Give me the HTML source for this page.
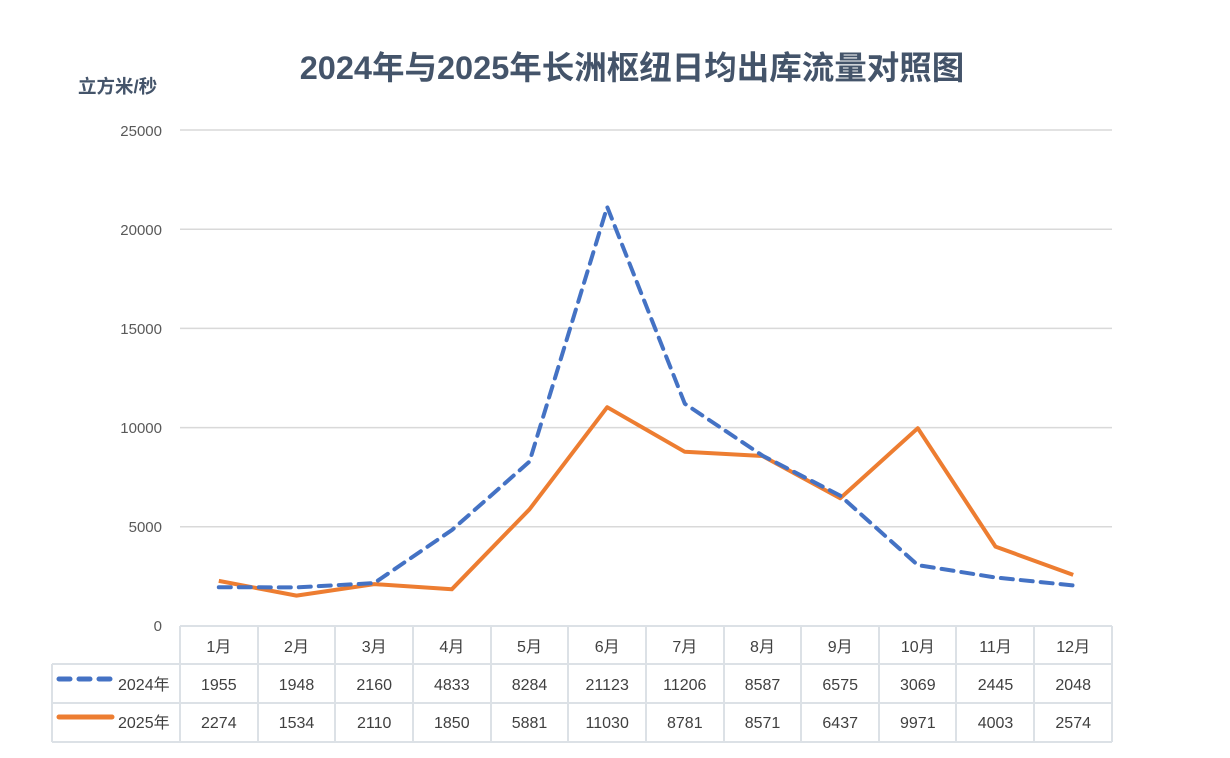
<!DOCTYPE html>
<html><head><meta charset="utf-8"><style>
body{margin:0;background:#fff;}
svg text{font-family:"Liberation Sans","Noto Sans CJK SC",sans-serif;}
</style></head><body>
<svg width="1230" height="753" viewBox="0 0 1230 753" xmlns="http://www.w3.org/2000/svg">
<rect width="1230" height="753" fill="#fff"/>
<text x="632" y="79" text-anchor="middle" font-size="32.5" font-weight="bold" fill="#44546a">2024年与2025年长洲枢纽日均出库流量对照图</text>
<text x="78" y="93" font-size="18.5" font-weight="bold" fill="#44546a">立方米/秒</text>
<g stroke="#d9d9d9" stroke-width="1.5">
<line x1="180" y1="130" x2="1112" y2="130"/>
<line x1="180" y1="229.2" x2="1112" y2="229.2"/>
<line x1="180" y1="328.4" x2="1112" y2="328.4"/>
<line x1="180" y1="427.6" x2="1112" y2="427.6"/>
<line x1="180" y1="526.8" x2="1112" y2="526.8"/>
</g>
<g font-size="15" fill="#595959" text-anchor="end">
<text x="162" y="136">25000</text>
<text x="162" y="235">20000</text>
<text x="162" y="334">15000</text>
<text x="162" y="433">10000</text>
<text x="162" y="532">5000</text>
<text x="162" y="631">0</text>
</g>
<g stroke="#dce1e6" stroke-width="2" fill="none">
<line x1="180" y1="626" x2="1112" y2="626"/>
<line x1="52" y1="664" x2="1112" y2="664"/>
<line x1="52" y1="703" x2="1112" y2="703"/>
<line x1="52" y1="742" x2="1112" y2="742"/>
<line x1="52" y1="664" x2="52" y2="742"/>
<line x1="180" y1="626" x2="180" y2="742"/>
<line x1="258" y1="626" x2="258" y2="742"/>
<line x1="335" y1="626" x2="335" y2="742"/>
<line x1="413" y1="626" x2="413" y2="742"/>
<line x1="491" y1="626" x2="491" y2="742"/>
<line x1="568" y1="626" x2="568" y2="742"/>
<line x1="646" y1="626" x2="646" y2="742"/>
<line x1="724" y1="626" x2="724" y2="742"/>
<line x1="801" y1="626" x2="801" y2="742"/>
<line x1="879" y1="626" x2="879" y2="742"/>
<line x1="956" y1="626" x2="956" y2="742"/>
<line x1="1034" y1="626" x2="1034" y2="742"/>
<line x1="1112" y1="626" x2="1112" y2="742"/>
</g>
<polyline fill="none" stroke="#ed7d31" stroke-width="4" stroke-linejoin="round" points="218.8,580.9 296.5,595.6 374.2,584.1 451.8,589.3 529.5,509.3 607.2,407.2 684.8,451.8 762.5,456 840.2,498.3 917.8,428.2 995.5,546.6 1073.2,574.9"/>
<polyline fill="none" stroke="#4472c4" stroke-width="4" stroke-dasharray="12,8" stroke-linecap="round" stroke-linejoin="round" points="218.8,587.2 296.5,587.4 374.2,583.1 451.8,530.1 529.5,461.6 607.2,206.9 684.8,403.7 762.5,455.6 840.2,495.6 917.8,565.1 995.5,577.5 1073.2,585.4"/>
<line x1="59" y1="679" x2="110" y2="679" stroke="#4472c4" stroke-width="5" stroke-dasharray="11,9" stroke-linecap="round"/>
<line x1="59" y1="717" x2="112" y2="717" stroke="#ed7d31" stroke-width="5" stroke-linecap="round"/>
<g font-size="16" fill="#404040">
<text x="118" y="690">2024年</text>
<text x="118" y="728">2025年</text>
</g>
<g font-size="16" fill="#404040" text-anchor="middle">
<text x="218.8" y="652">1月</text><text x="296.5" y="652">2月</text><text x="374.2" y="652">3月</text><text x="451.8" y="652">4月</text><text x="529.5" y="652">5月</text><text x="607.2" y="652">6月</text><text x="684.8" y="652">7月</text><text x="762.5" y="652">8月</text><text x="840.2" y="652">9月</text><text x="917.8" y="652">10月</text><text x="995.5" y="652">11月</text><text x="1073.2" y="652">12月</text>
<text x="218.8" y="690">1955</text><text x="296.5" y="690">1948</text><text x="374.2" y="690">2160</text><text x="451.8" y="690">4833</text><text x="529.5" y="690">8284</text><text x="607.2" y="690">21123</text><text x="684.8" y="690">11206</text><text x="762.5" y="690">8587</text><text x="840.2" y="690">6575</text><text x="917.8" y="690">3069</text><text x="995.5" y="690">2445</text><text x="1073.2" y="690">2048</text>
<text x="218.8" y="728">2274</text><text x="296.5" y="728">1534</text><text x="374.2" y="728">2110</text><text x="451.8" y="728">1850</text><text x="529.5" y="728">5881</text><text x="607.2" y="728">11030</text><text x="684.8" y="728">8781</text><text x="762.5" y="728">8571</text><text x="840.2" y="728">6437</text><text x="917.8" y="728">9971</text><text x="995.5" y="728">4003</text><text x="1073.2" y="728">2574</text>
</g>
</svg>
</body></html>
